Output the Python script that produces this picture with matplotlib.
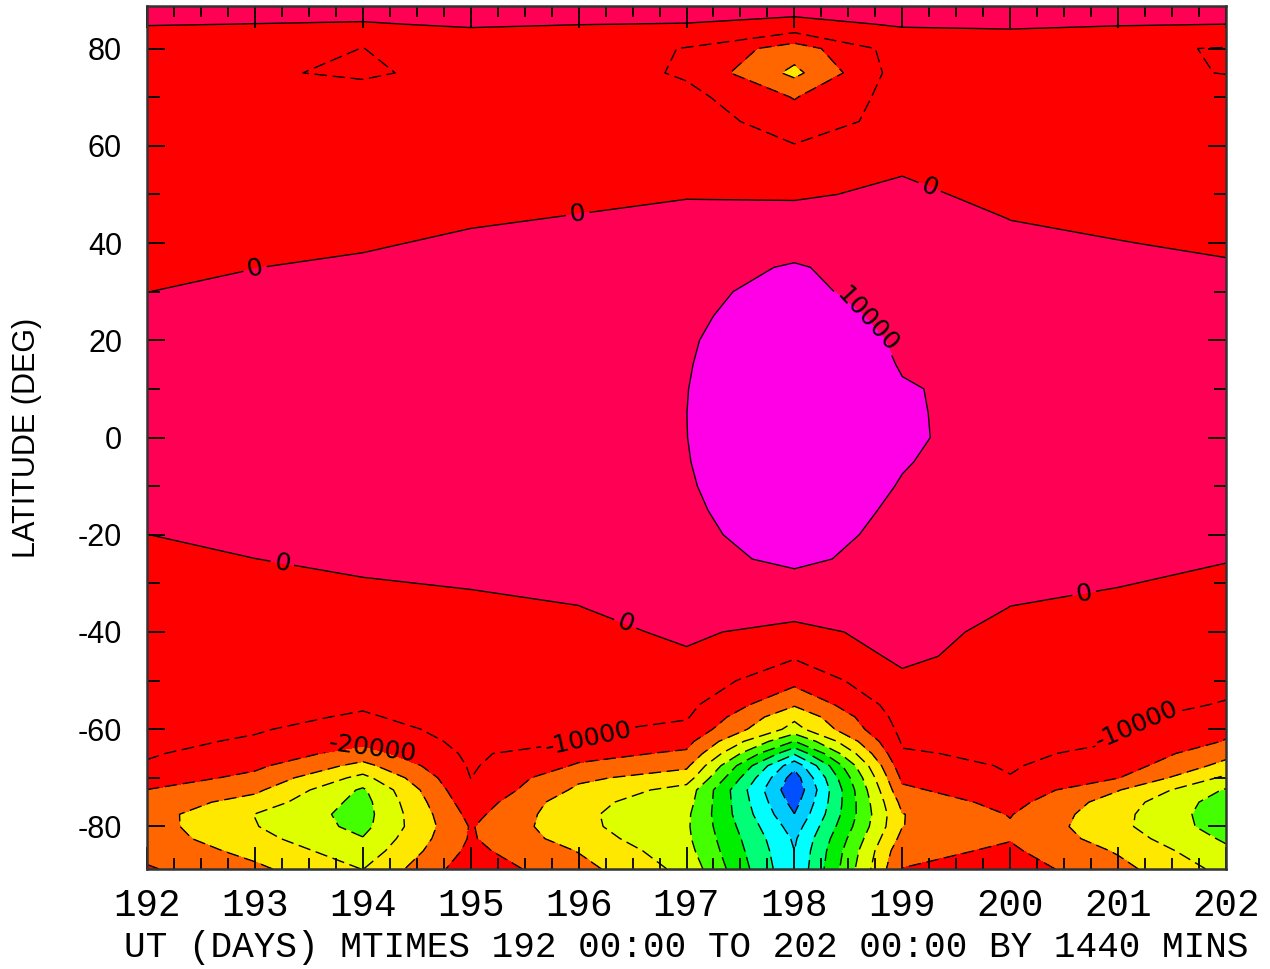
import matplotlib
matplotlib.use("Agg")  # no display

import numpy as np
import matplotlib.pyplot as plt
from matplotlib.ticker import MultipleLocator

plt.rcParams["axes.unicode_minus"] = False  # plain hyphen like the original

# Data: value at each (latitude, day) grid point
DAYS = [192, 193, 194, 195, 196, 197, 198, 199, 200, 201, 202]

LATS = [-88.75, -85, -82.5, -80, -77.5, -75, -72.5, -70, -67.5, -65, -62.5,
        -60, -57.5, -55, -50, -45, -40, -35, -30, -25, -20, -15, -10, -5,
        0, 5, 10, 15, 20, 25, 30, 35, 40, 45, 50, 55, 60, 65, 70, 75, 80,
        85, 88.75]

# one row per latitude, one column per day
VALUES = [
    [-19000, -28000, -40200, -14000, -26500, -43000, -89000, -19800, -15000, -27000, -43000],
    [-23000, -33000, -46000, -17500, -30500, -46500, -90000, -23000, -18500, -31000, -48000],
    [-25000, -37000, -49500, -19000, -35000, -48000, -91500, -27000, -20500, -35000, -51500],
    [-25800, -39500, -53000, -19300, -37500, -48500, -95000, -30200, -21000, -37500, -55000],
    [-25600, -40200, -54000, -17000, -38000, -48000, -99800, -30300, -19500, -37000, -56000],
    [-24000, -34000, -53500, -14000, -37000, -46000, -104000, -27000, -16500, -35000, -55000],
    [-20200, -28000, -51500, -11000, -32000, -44000, -108000, -22000, -13000, -29500, -51000],
    [-15000, -22500, -43000, -9900, -28000, -35000, -105000, -18000, -10300, -19700, -42000],
    [-10800, -18000, -33000, -9000, -21000, -28000, -97000, -14000, -9300, -15000, -33000],
    [-9200, -14000, -24000, -8200, -17000, -21500, -78700, -10800, -8500, -12000, -27000],
    [-8200, -10900, -17500, -7500, -9800, -17000, -60300, -9000, -7800, -9900, -20500],
    [-7500, -9300, -13500, -7000, -8500, -12500, -43500, -7500, -7000, -9000, -18000],
    [-7000, -8200, -10800, -6500, -7800, -9200, -38000, -6000, -6500, -8200, -14000],
    [-6500, -7500, -9200, -6000, -7000, -7500, -29000, -5000, -6000, -7500, -10500],
    [-5500, -6500, -7000, -5000, -5500, -4000, -17000, -2000, -5000, -6000, -8000],
    [-5000, -5500, -5500, -4000, -4000, -1000, -9000, 2000, -4000, -4500, -6000],
    [-4500, -4500, -4000, -3000, -2500, 1500, -3000, 3500, -2500, -3000, -4500],
    [-3500, -3500, -2500, -1500, -200, 4000, 4000, 5000, -100, -1500, -3000],
    [-2500, -2000, -500, 500, 2000, 6000, 8500, 6500, 1500, 300, -1500],
    [-1500, -50, 1500, 2500, 4000, 8440, 11000, 8140, 3500, 2000, 300],
    [-50, 2000, 3500, 4500, 5500, 8970, 12000, 8670, 5000, 3500, 2000],
    [1500, 3500, 4800, 5500, 6500, 9250, 13000, 9100, 6000, 4500, 3300],
    [3000, 5000, 6000, 6500, 7500, 9550, 14000, 9700, 7000, 5500, 4500],
    [4500, 5500, 6500, 7000, 8000, 9800, 14700, 10300, 7500, 6000, 4800],
    [5500, 6000, 7000, 7500, 8500, 9950, 15000, 10700, 8000, 6500, 5000],
    [5300, 5800, 6800, 7300, 8300, 9980, 15000, 10600, 8100, 6500, 5000],
    [5000, 5500, 6500, 7000, 8000, 9900, 15000, 10300, 8800, 6500, 5000],
    [4000, 4800, 5800, 6500, 7500, 9710, 14500, 9710, 8000, 6000, 4500],
    [3000, 4000, 5000, 6000, 7000, 9450, 14000, 9240, 7000, 5500, 4000],
    [1500, 2800, 4000, 5000, 6000, 8900, 13300, 8200, 6000, 4800, 3300],
    [-50, 1500, 3000, 4000, 5000, 8100, 12500, 5700, 5000, 4000, 2500],
    [-1500, -100, 1500, 3000, 4000, 7000, 10700, 6000, 3500, 2500, 1000],
    [-3000, -2000, -1000, 1500, 2500, 5000, 7000, 5500, 1500, 300, -1500],
    [-4000, -3500, -3000, -1000, 500, 2000, 3000, 4000, -100, -2000, -3000],
    [-5000, -4500, -4500, -3000, -2000, -500, -1000, 1500, -2000, -3500, -4000],
    [-5500, -5500, -5500, -4500, -3500, -2000, -7000, -500, -3500, -4500, -5000],
    [-6000, -6000, -6500, -5500, -4500, -3000, -9500, -3000, -4500, -5500, -5500],
    [-6000, -6500, -7000, -6000, -5000, -4000, -16000, -6000, -5000, -6000, -6000],
    [-6000, -7000, -6000, -6000, -5000, -7000, -20500, -5800, -5000, -6500, -7000],
    [-6000, -8800, -11500, -6500, -4000, -11500, -32500, -4950, -5500, -8500, -10200],
    [-5000, -6500, -10100, -5000, -5000, -10500, -25000, -5000, -4000, -8600, -10500],
    [300, -100, -500, 800, 100, -200, -2100, 700, 1000, 600, -30],
    [3000, 3000, 3000, 3000, 3000, 3000, 3000, 3000, 3000, 3000, 3000],
]

FILL_LEVELS = [-200000, -100000, -90000, -80000, -70000, -60000, -50000,
               -40000, -30000, -20000, 0, 10000, 100000]
FILL_COLORS = ["#0050ff", "#00ccff", "#00ffff", "#00ff77", "#00ee00",
               "#44ff00", "#ddff00", "#ffe800", "#ff6600", "#ff0000",
               "#ff0055", "#ff00e6"]
LINE_LEVELS = [-100000, -90000, -80000, -70000, -60000, -50000, -40000,
               -30000, -20000, -10000, 0, 10000]

# where the contour labels sit (day, latitude)
LABEL_SPOTS = [(193.0, 34.8), (196.0, 44.6), (199.25, 51.3),
               (193.25, -26.4), (196.42, -39.0), (200.68, -31.4),
               (198.7, 24.7), (194.1, -63.4),
               (196.1, -62.5), (201.2, -60.2)]

MONO = ["Liberation Mono", "DejaVu Sans Mono"]
SANS = ["Liberation Sans", "DejaVu Sans"]


def main():
    z = np.array(VALUES, dtype=float)

    fig = plt.figure(figsize=(12.7, 9.69), dpi=100)
    ax = fig.add_axes([147 / 1270, 100 / 969, 1079 / 1270, 863 / 969])

    ax.contourf(DAYS, LATS, z, levels=FILL_LEVELS, colors=FILL_COLORS)

    styles = ["solid" if lev >= 0 else (0, (9, 4)) for lev in LINE_LEVELS]
    cs = ax.contour(DAYS, LATS, z, levels=LINE_LEVELS, colors="black",
                    linewidths=1.0, linestyles=styles)

    fmt = {lev: "%d" % lev for lev in LINE_LEVELS}
    texts = ax.clabel(cs, fmt=fmt, inline=True, inline_spacing=4,
                      fontsize=18, colors="black", manual=LABEL_SPOTS)
    for t in texts:
        t.set_family("DejaVu Sans")

    ax.set_xlim(192, 202)
    ax.set_ylim(-88.75, 88.75)

    ax.xaxis.set_major_locator(MultipleLocator(1))
    ax.xaxis.set_minor_locator(MultipleLocator(0.25))
    ax.yaxis.set_major_locator(MultipleLocator(20))
    ax.yaxis.set_minor_locator(MultipleLocator(10))

    ax.tick_params(axis="x", which="major", direction="in", length=16,
                   width=1.3, top=True, pad=14)
    ax.tick_params(axis="x", which="minor", direction="in", length=8,
                   width=1.3, top=True)
    ax.tick_params(axis="y", which="major", direction="in", length=13,
                   width=1.3, right=True, pad=18)
    ax.tick_params(axis="y", which="minor", direction="in", length=9,
                   width=1.3, right=True)

    for lab in ax.get_xticklabels():
        lab.set_family(MONO)
        lab.set_fontsize(27)
    for lab in ax.get_yticklabels():
        lab.set_family(SANS)
        lab.set_fontsize(22)

    ax.set_xlabel("UT (DAYS) MTIMES 192 00:00 TO 202 00:00 BY 1440 MINS",
                  family=MONO, fontsize=26)
    ax.xaxis.set_label_coords(0.5, -0.071)
    ax.set_ylabel("LATITUDE (DEG)", family=SANS, fontsize=22)
    ax.yaxis.set_label_coords(-0.097, 0.5)

    for sp in ax.spines.values():
        sp.set_linewidth(1.8)
        sp.set_color("#333333")

    fig.savefig("out.png", dpi=100)
    plt.close(fig)


if __name__ == "__main__":
    main()
